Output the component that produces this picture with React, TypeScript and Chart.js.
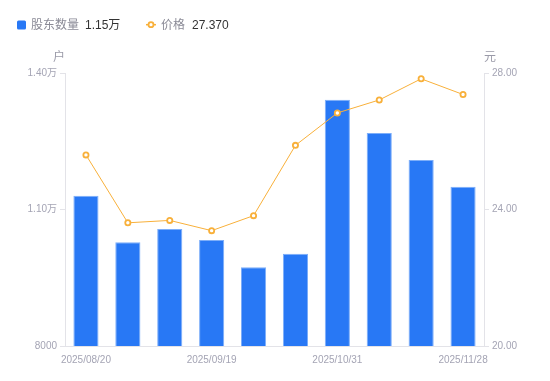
import React, { useEffect, useRef } from "react";
import { Chart, registerables } from "chart.js";

Chart.register(...registerables);

const categories = [
  "2025/08/20", "2025/08/29", "2025/09/10", "2025/09/19", "2025/09/30",
  "2025/10/20", "2025/10/31", "2025/11/10", "2025/11/20", "2025/11/28",
];
const holders = [11300, 10280, 10570, 10330, 9730, 10030, 13410, 12680, 12090, 11500];
const prices = [25.6, 23.61, 23.68, 23.38, 23.82, 25.88, 26.83, 27.21, 27.83, 27.37];
const leftTicks = [8000, 11000, 14000];
const rightTicks = [20, 24, 28];

const FONT = "'Liberation Sans', 'Noto Sans CJK SC', sans-serif";
const BLUE = "#2878F5";
const ORANGE = "#F8B03A";
const TICK_COLOR = "#A4A4B4";
const AXIS_COLOR = "#E3E3E8";

function fmtHolders(v: number) {
  return v >= 10000 ? (v / 10000).toFixed(2) + "万" : String(v);
}

const overlayPlugin = {
  id: "overlay",
  afterDraw(chart: any) {
    const ctx = chart.ctx;
    ctx.save();
    ctx.textBaseline = "middle";
    const y = 25.5;
    // legend item 1
    ctx.fillStyle = BLUE;
    ctx.beginPath();
    (ctx as any).roundRect ? ctx.roundRect(17, 20.5, 9, 9, 1.5) : ctx.rect(17, 20.5, 9, 9);
    ctx.fill();
    ctx.font = "12px " + FONT;
    ctx.textAlign = "left";
    ctx.fillStyle = "#8A8A96";
    ctx.fillText("股东数量", 31, y);
    ctx.fillStyle = "#333333";
    ctx.fillText(fmtHolders(holders[holders.length - 1]).replace(/0万$/, "万"), 85, y);
    // legend item 2
    const my = 24.7;
    ctx.strokeStyle = ORANGE;
    ctx.lineWidth = 1.5;
    ctx.beginPath();
    ctx.moveTo(146, my);
    ctx.lineTo(156, my);
    ctx.stroke();
    ctx.beginPath();
    ctx.arc(151, my, 2.5, 0, Math.PI * 2);
    ctx.fillStyle = "#fff";
    ctx.fill();
    ctx.lineWidth = 1.8;
    ctx.stroke();
    ctx.fillStyle = "#8A8A96";
    ctx.fillText("价格", 161, y);
    ctx.fillStyle = "#333333";
    ctx.fillText(prices[prices.length - 1].toFixed(3), 192, y);
    // axis titles
    ctx.fillStyle = "#9A9AA8";
    ctx.font = "12px " + FONT;
    ctx.textAlign = "center";
    ctx.fillText("户", 59, 58);
    ctx.fillText("元", 490, 58);
    ctx.restore();
  },
};

export default function App() {
  const ref = useRef<HTMLCanvasElement>(null);
  useEffect(() => {
    document.body.style.margin = "0";
    Chart.defaults.font.family = FONT;
    const chart = new Chart(ref.current!, {
      data: {
        labels: categories,
        datasets: [
          {
            type: "line",
            label: "价格",
            data: prices,
            yAxisID: "y1",
            borderColor: ORANGE,
            borderWidth: 1,
            pointRadius: 2.6,
            pointBorderWidth: 1.8,
            pointBackgroundColor: "#fff",
            pointBorderColor: ORANGE,
            tension: 0,
            order: 1,
          } as any,
          {
            type: "bar",
            label: "股东数量",
            data: holders,
            yAxisID: "y",
            backgroundColor: BLUE,
            borderColor: "#7DAEF9",
            borderWidth: { top: 1, left: 1, right: 1, bottom: 0 },
            barPercentage: 0.6,
            categoryPercentage: 1,
            order: 2,
          } as any,
        ],
      },
      options: {
        animation: false,
        responsive: false,
        maintainAspectRatio: false,
        layout: { padding: { top: 73, left: 0, right: 0, bottom: 0 } },
        plugins: { legend: { display: false }, tooltip: { enabled: false } },
        scales: {
          x: {
            offset: true,
            grid: { display: true, drawOnChartArea: false, drawTicks: false, color: AXIS_COLOR },
            border: { color: AXIS_COLOR },
            ticks: {
              autoSkip: false,
              maxRotation: 0,
              padding: 8,
              color: TICK_COLOR,
              font: { size: 10 },
              callback: (_v: any, i: number) => (i % 3 === 0 ? categories[i] : ""),
            },
            afterFit: (s: any) => { s.height = 35; },
          },
          y: {
            position: "left",
            min: leftTicks[0],
            max: leftTicks[leftTicks.length - 1],
            afterBuildTicks: (s: any) => { s.ticks = leftTicks.map((v) => ({ value: v })); },
            grid: { drawOnChartArea: false, tickLength: 5, color: AXIS_COLOR },
            border: { color: AXIS_COLOR },
            ticks: { color: TICK_COLOR, font: { size: 10 }, padding: 3, callback: (v: any) => fmtHolders(Number(v)) },
            afterFit: (s: any) => { s.width = 65; },
          },
          y1: {
            position: "right",
            min: rightTicks[0],
            max: rightTicks[rightTicks.length - 1],
            afterBuildTicks: (s: any) => { s.ticks = rightTicks.map((v) => ({ value: v })); },
            grid: { drawOnChartArea: false, tickLength: 5, color: AXIS_COLOR },
            border: { color: AXIS_COLOR },
            ticks: { color: TICK_COLOR, font: { size: 10 }, padding: 3, callback: (v: any) => Number(v).toFixed(2) },
            afterFit: (s: any) => { s.width = 66; },
          },
        },
      },
      plugins: [overlayPlugin],
    });
    return () => chart.destroy();
  }, []);
  return (
    <div style={{ position: "absolute", left: 0, top: 0, width: 550, height: 381 }}>
      <canvas ref={ref} width={550} height={381} style={{ width: 550, height: 381 }} />
    </div>
  );
}
